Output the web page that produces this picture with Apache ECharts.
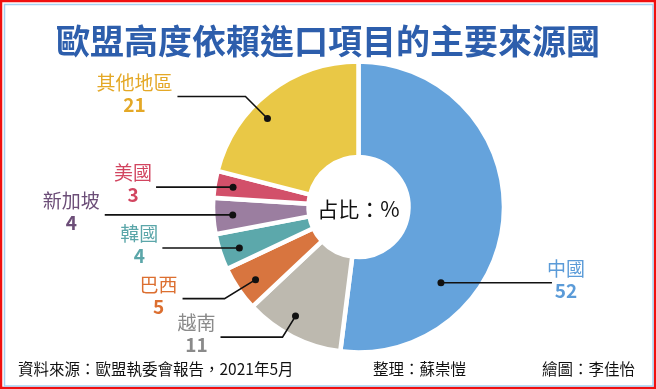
<!DOCTYPE html>
<html>
<head>
<meta charset="utf-8">
<script src="https://cdn.jsdelivr.net/npm/echarts@6/dist/echarts.min.js"></script>
<style>
html,body{margin:0;padding:0;background:#fff;}
#c{width:656px;height:389px;}
</style>
</head>
<body>
<div id="c"></div>
<script>
// ---- data ----
const categories = ['中國', '越南', '巴西', '韓國', '新加坡', '美國', '其他地區'];
const values = [52, 11, 5, 4, 4, 3, 21];

// ---- styles ----
const sliceColors = ['#65A3DC', '#BDB9AF', '#D8753F', '#5CA8AB', '#9B7EA0', '#D2506A', '#E9C846'];
const textColors  = ['#5B9BD8', '#8A8A8A', '#DC6F30', '#5BA6A9', '#6C4E78', '#D24560', '#E4A826'];
const angleShift  = [39, 3, -1, -1, 0, 0, -8];      // dot angle offset from slice middle (deg)
const dotRadius   = [112, 126, 126, 126, 126, 127, 127];
const elbowOff    = [[0,0],[-13,21],[-31,19],[0,0],[0,0],[0,0],[-22,-22]];
const hLen        = [111, -62, -42, -77, -128, -77, -68];
const labelGap    = [-5, 5, 5, 4, 5, 4, 5];

const FONT = '"Noto Sans CJK TC","Noto Sans CJK SC",sans-serif';
const CX = 358.5, CY = 207, R0 = 50, R1 = 145.5;

const total = values.reduce((a, b) => a + b, 0);
const midFrac = [];
(function () { let acc = 0; values.forEach(v => { midFrac.push((acc + v / 2) / total); acc += v; }); })();

function dotPos(i) {
  const a = (midFrac[i] * 360 + angleShift[i]) * Math.PI / 180;
  return [CX + dotRadius[i] * Math.sin(a), CY - dotRadius[i] * Math.cos(a)];
}

const rich = {};
textColors.forEach((c, i) => {
  rich['n' + i] = { fontFamily: FONT, fontSize: 19, color: c, lineHeight: 22, align: 'center' };
  rich['v' + i] = { fontFamily: FONT, fontSize: 19, fontWeight: 'bold', color: c, lineHeight: 22, align: 'center' };
});

const sliceData = categories.map((name, i) => ({
  name: name,
  value: values[i],
  itemStyle: { color: sliceColors[i] }
}));
const labelData = categories.map((name, i) => ({ name: name, value: values[i] }));

const dots = categories.map((_, i) => {
  const p = dotPos(i);
  return { type: 'circle', shape: { cx: p[0], cy: p[1], r: 3.5 }, style: { fill: '#111' }, z: 100 };
});

const chart = echarts.init(document.getElementById('c'), null, { renderer: 'canvas' });
chart.setOption({
  backgroundColor: '#ffffff',
  animation: false,
  title: {
    text: '歐盟高度依賴進口項目的主要來源國',
    left: 'center',
    top: 19,
    textStyle: { fontFamily: FONT, fontSize: 34, fontWeight: 'bold', color: '#2D5EAC' }
  },
  graphic: [
    { type: 'rect', shape: { x: 1, y: 1, width: 654, height: 387 }, style: { fill: 'none', stroke: '#F01010', lineWidth: 2.5 }, silent: true },
    { type: 'rect', shape: { x: 4.5, y: 4.5, width: 648.5, height: 381.5 }, style: { fill: 'none', stroke: '#A6D2F2', lineWidth: 1.5 }, silent: true },
    { type: 'text', x: CX, y: CY + 2, style: { text: '占比：%', font: '21px ' + FONT, fill: '#111', textAlign: 'center', textVerticalAlign: 'middle' }, z: 100 },
    { type: 'text', x: 18, y: 369, style: { text: '資料來源：歐盟執委會報告，2021年5月', font: '15.5px ' + FONT, fill: '#111', textAlign: 'left', textVerticalAlign: 'middle' } },
    { type: 'text', x: 373, y: 369, style: { text: '整理：蘇崇愷', font: '15.5px ' + FONT, fill: '#111', textAlign: 'left', textVerticalAlign: 'middle' } },
    { type: 'text', x: 542, y: 369, style: { text: '繪圖：李佳怡', font: '15.5px ' + FONT, fill: '#111', textAlign: 'left', textVerticalAlign: 'middle' } }
  ].concat(dots),
  series: [{
    type: 'pie',
    z: 2,
    center: [CX, CY],
    radius: [R0, R1],
    startAngle: 90,
    clockwise: true,
    silent: true,
    label: { show: false },
    labelLine: { show: false },
    itemStyle: { borderColor: '#ffffff', borderWidth: 4.5 },
    data: sliceData
  }, {
    type: 'pie',
    z: 10,
    center: [CX, CY],
    radius: [R0, R1],
    startAngle: 90,
    clockwise: true,
    silent: true,
    avoidLabelOverlap: false,
    itemStyle: { color: 'rgba(0,0,0,0)', borderWidth: 0 },
    label: {
      show: true,
      position: 'outside',
      formatter: function (p) { return '{n' + p.dataIndex + '|' + p.name + '}\n{v' + p.dataIndex + '|' + p.value + '}'; },
      rich: rich
    },
    labelLine: { show: true, lineStyle: { color: '#111', width: 1.6 } },
    labelLayout: function (p) {
      const i = p.dataIndex;
      const d = dotPos(i);
      const e = [d[0] + elbowOff[i][0], d[1] + elbowOff[i][1]];
      const end = [e[0] + hLen[i], e[1]];
      const side = hLen[i] > 0 ? 1 : -1;
      const w = p.labelRect.width;
      return {
        x: end[0] + side * (labelGap[i] + w / 2),
        y: end[1] - 3,
        align: 'center',
        verticalAlign: 'middle',
        labelLinePoints: [d, e, end]
      };
    },
    data: labelData
  }]
});
</script>
</body>
</html>
